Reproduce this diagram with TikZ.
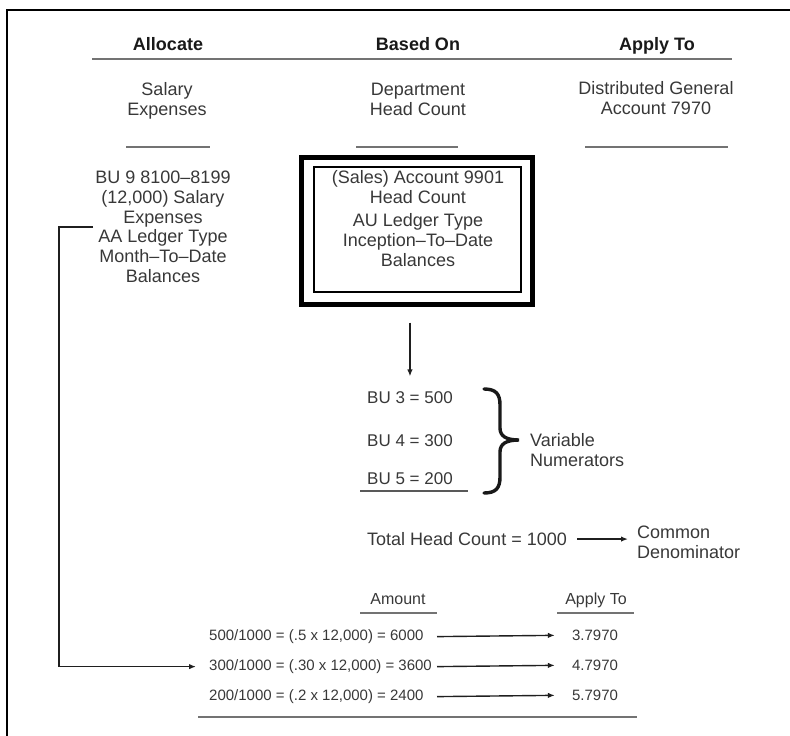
\documentclass[tikz,border=0pt]{standalone}
\usepackage{fontspec}
\setmainfont{Liberation Sans}
\usetikzlibrary{arrows.meta}
\begin{document}
\begin{tikzpicture}[x=1pt,y=-1pt,
  txt/.style={font=\fontsize{18}{19.8}\selectfont, text=black!78, align=center, inner sep=0pt, anchor=base},
  ltxt/.style={font=\fontsize{18}{20}\selectfont, text=black!78, align=left, inner sep=0pt, anchor=base west},
  hdr/.style={font=\fontsize{18}{20}\selectfont\bfseries, text=black!90, inner sep=0pt, anchor=base},
  rowtxt/.style={font=\fontsize{15}{17}\selectfont, text=black!78, inner sep=0pt, anchor=base west},
  valtxt/.style={font=\fontsize{15}{17}\selectfont, text=black!78, inner sep=0pt, anchor=base},
  grule/.style={draw=black!55, line width=2.4pt},
  trule/.style={draw=black!65, line width=1.3pt},
  arr/.style={-{Latex[length=7pt,width=5.5pt]}, line width=1.4pt, draw=black!88},
]
\useasboundingbox (0,0) rectangle (790,736);
% frame
\draw[line width=2.5pt] (7,736) -- (7,10) -- (790,10);

% headers
\node[hdr] (hA) at (168,50) {Allocate};
\node[hdr] (hB) at (418,50) {Based On};
\node[hdr] (hC) at (657,50) {Apply To};
\draw[grule] (92,59) -- (732,59);

\node[txt] (sal) at (167,115) {Salary\\Expenses};
\node[txt] (dep) at (418,115) {Department\\Head Count};
\node[txt] (dis) at (656,114.5) {Distributed General\\Account 7970};
\draw[grule, line width=2pt] (126,147) -- (210,147);
\draw[grule, line width=2pt] (356,147) -- (458,147);
\draw[grule, line width=2pt] (585,147) -- (728,147);

% left block
\node[txt] (bu9) at (163,282.5) {BU 9 8100--8199\\(12,000) Salary\\Expenses\\AA Ledger Type\\Month--To--Date\\Balances};
\coordinate (lc) at (93,227);

% box
\node[draw, line width=5pt, minimum width=231pt, minimum height=147pt, inner sep=0pt] (outer) at (416.5,230.5) {};
\node[draw, line width=1.3pt, minimum width=207pt, minimum height=125pt, inner sep=0pt] (inner) at (417.5,229.5) {};
\node[txt] (boxt) at (418,266.5) {(Sales) Account 9901\\Head Count\\[4pt]AU Ledger Type\\Inception--To--Date\\Balances};

% BU values
\node[rowtxt, font=\fontsize{17}{19}\selectfont] (bu3) at (367,403.5) {BU 3 = 500};
\node[rowtxt, font=\fontsize{17}{19}\selectfont] (bu4) at (367,446.5) {BU 4 = 300};
\node[rowtxt, font=\fontsize{17}{19}\selectfont] (bu5) at (367,484.5) {BU 5 = 200};
\draw[trule] (360,491) -- (468,491);
\draw[arr] ([yshift=-16pt]outer.south -| bu3.north) -- ([yshift=15pt]bu3.north);

% brace
\draw[line width=3.4pt, black!90, line cap=round]
  (484,389) .. controls (496,389) and (500,394) .. (500,405) -- (500,428)
  .. controls (500,436) and (506,440) .. (519,440)
  .. controls (506,440) and (500,444) .. (500,452) -- (500,477)
  .. controls (500,488) and (496,493) .. (484,493);
\node[ltxt] (vn) at (530,466.5) {Variable\\Numerators};

% total
\node[ltxt] (tot) at (367,545.5) {Total Head Count = 1000};
\node[ltxt] (cd) at (637,558.5) {Common\\Denominator};
\draw[arr] ([xshift=10pt]tot.east) -- ([xshift=-9pt]tot.east -| cd.west);

% bottom table
\node[valtxt, font=\fontsize{16}{18}\selectfont] (am) at (398,604.5) {Amount};
\node[valtxt, font=\fontsize{16}{18}\selectfont] (ap) at (596,604.5) {Apply To};
\draw[grule, line width=2pt] (360,613) -- (437,613);
\draw[grule, line width=2pt] (557,613) -- (634,613);

\node[rowtxt] (r1) at (209,640.5) {500/1000 = (.5 x 12,000) = 6000};
\node[rowtxt] (r2) at (209,670.5) {300/1000 = (.30 x 12,000) = 3600};
\node[rowtxt] (r3) at (209,700.5) {200/1000 = (.2 x 12,000) = 2400};
\node[valtxt] (v1) at (595,640.5) {3.7970};
\node[valtxt] (v2) at (595,670.5) {4.7970};
\node[valtxt] (v3) at (595,700.5) {5.7970};
\coordinate (ax) at (437,0);
\draw[arr] (r1.east -| ax) -- ([xshift=-17pt]v1.west);
\draw[arr] (r2.east -| ax) -- ([xshift=-17pt]v2.west);
\draw[arr] (r3.east -| ax) -- ([xshift=-17pt]v3.west);
\draw[grule, line width=2.6pt] (198,717) -- (637,717);

% left connector
\draw[arr, line width=1.6pt] (lc) -- ++(-34,0) |- ([xshift=-13pt]r2.west);
\end{tikzpicture}
\end{document}
